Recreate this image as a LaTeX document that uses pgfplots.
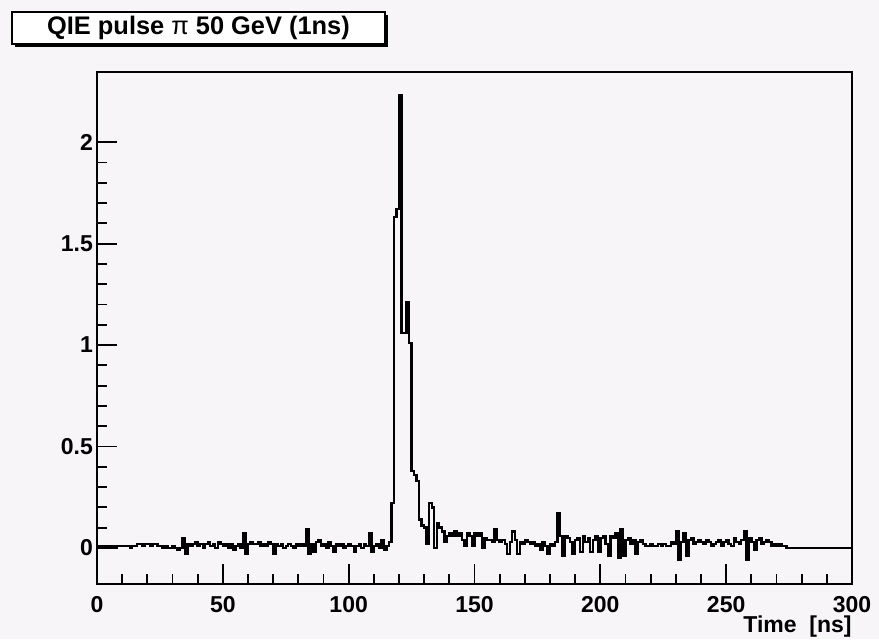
\documentclass[border=0pt]{standalone}
\usepackage{pgfplots}
\pgfplotsset{compat=1.18}
\usepackage{pgfplotstable}
\usepackage{fontspec}
\setmainfont{Liberation Sans}
\definecolor{bg}{RGB}{247,245,247}

\pgfplotstableread[row sep=\\]{
x y\\
0 0.01\\ 1 0.01\\ 2 0.01\\ 3 0.01\\ 4 0.01\\ 5 0.01\\ 6 0.01\\ 7 0.00\\ 8 0.01\\ 9 0.01\\
10 0.01\\ 11 0.01\\ 12 0.01\\ 13 0.00\\ 14 0.01\\ 15 0.01\\ 16 0.02\\ 17 0.02\\ 18 0.01\\ 19 0.02\\
20 0.02\\ 21 0.01\\ 22 0.02\\ 23 0.02\\ 24 0.01\\ 25 0.01\\ 26 0.00\\ 27 0.01\\ 28 0.00\\ 29 0.00\\
30 0.01\\ 31 0.00\\ 32 -0.01\\ 33 0.00\\ 34 0.05\\ 35 -0.03\\ 36 0.02\\ 37 0.01\\ 38 0.02\\ 39 0.03\\
40 0.01\\ 41 0.02\\ 42 0.00\\ 43 0.02\\ 44 0.03\\ 45 0.01\\ 46 0.02\\ 47 0.00\\ 48 0.03\\ 49 0.02\\
50 0.01\\ 51 0.02\\ 52 0.00\\ 53 0.02\\ 54 -0.01\\ 55 0.01\\ 56 0.02\\ 57 0.00\\ 58 0.07\\ 59 -0.03\\
60 0.02\\ 61 0.03\\ 62 0.02\\ 63 0.02\\ 64 0.03\\ 65 0.01\\ 66 0.02\\ 67 0.01\\ 68 0.03\\ 69 0.02\\
70 -0.03\\ 71 0.02\\ 72 0.01\\ 73 0.02\\ 74 0.00\\ 75 0.01\\ 76 0.02\\ 77 0.01\\ 78 0.00\\ 79 0.02\\
80 0.01\\ 81 0.02\\ 82 0.01\\ 83 0.09\\ 84 -0.03\\ 85 0.02\\ 86 -0.02\\ 87 0.03\\ 88 0.04\\ 89 0.01\\
90 0.02\\ 91 0.00\\ 92 0.03\\ 93 0.01\\ 94 -0.02\\ 95 0.02\\ 96 0.01\\ 97 0.02\\ 98 0.00\\ 99 0.01\\
100 0.02\\ 101 0.01\\ 102 -0.02\\ 103 0.01\\ 104 0.02\\ 105 0.00\\ 106 0.02\\ 107 0.01\\ 108 0.07\\ 109 -0.02\\
110 0.01\\ 111 0.02\\ 112 0.00\\ 113 0.04\\ 114 -0.01\\ 115 0.01\\ 116 0.03\\ 117 0.22\\ 118 1.63\\ 119 1.67\\
120 2.23\\ 121 1.06\\ 122 1.06\\ 123 1.21\\ 124 1.01\\ 125 0.38\\ 126 0.36\\ 127 0.33\\ 128 0.14\\ 129 0.11\\
130 0.10\\ 131 0.02\\ 132 0.22\\ 133 0.20\\ 134 0.00\\ 135 0.12\\ 136 0.10\\ 137 0.08\\ 138 0.03\\ 139 0.06\\
140 0.07\\ 141 0.06\\ 142 0.08\\ 143 0.06\\ 144 0.07\\ 145 0.04\\ 146 0.01\\ 147 0.07\\ 148 0.06\\ 149 0.01\\
150 0.07\\ 151 0.06\\ 152 0.07\\ 153 0.00\\ 154 0.05\\ 155 0.04\\ 156 0.04\\ 157 0.03\\ 158 0.09\\ 159 0.04\\
160 0.03\\ 161 0.04\\ 162 0.02\\ 163 -0.03\\ 164 0.03\\ 165 0.08\\ 166 0.04\\ 167 -0.03\\ 168 0.03\\ 169 0.02\\
170 0.04\\ 171 0.03\\ 172 0.02\\ 173 0.03\\ 174 0.01\\ 175 0.02\\ 176 -0.01\\ 177 0.03\\ 178 0.01\\ 179 -0.03\\
180 0.02\\ 181 0.01\\ 182 0.03\\ 183 0.17\\ 184 0.06\\ 185 -0.04\\ 186 0.06\\ 187 0.05\\ 188 0.03\\ 189 -0.03\\
190 0.04\\ 191 0.05\\ 192 -0.02\\ 193 0.06\\ 194 0.03\\ 195 0.05\\ 196 -0.02\\ 197 0.04\\ 198 0.06\\ 199 -0.02\\
200 0.05\\ 201 0.06\\ 202 0.02\\ 203 -0.04\\ 204 0.06\\ 205 0.05\\ 206 0.07\\ 207 -0.05\\ 208 0.09\\ 209 -0.04\\
210 0.04\\ 211 0.05\\ 212 0.02\\ 213 0.04\\ 214 -0.03\\ 215 0.03\\ 216 0.04\\ 217 0.02\\ 218 0.01\\ 219 0.01\\
220 0.02\\ 221 0.01\\ 222 0.01\\ 223 0.02\\ 224 0.01\\ 225 0.02\\ 226 0.01\\ 227 0.01\\ 228 0.03\\ 229 0.02\\
230 0.08\\ 231 -0.06\\ 232 0.03\\ 233 0.07\\ 234 -0.04\\ 235 0.04\\ 236 0.05\\ 237 0.02\\ 238 0.03\\ 239 0.04\\
240 0.03\\ 241 0.02\\ 242 0.04\\ 243 0.03\\ 244 0.01\\ 245 0.02\\ 246 0.03\\ 247 0.04\\ 248 0.01\\ 249 0.03\\
250 0.04\\ 251 0.02\\ 252 0.01\\ 253 0.05\\ 254 0.03\\ 255 0.02\\ 256 0.04\\ 257 0.08\\ 258 -0.06\\ 259 0.05\\
260 0.03\\ 261 -0.01\\ 262 0.04\\ 263 0.05\\ 264 0.02\\ 265 0.03\\ 266 0.04\\ 267 0.03\\ 268 0.01\\ 269 0.02\\
270 0.01\\ 271 0.02\\ 272 0.01\\ 273 0.01\\ 274 0.00\\ 275 0.00\\ 300 0.00\\
}\hist

\begin{document}
\begin{tikzpicture}
\path[use as bounding box, fill=bg] (0,0) rectangle (439.5pt,319.5pt);
\begin{axis}[
  at={(48.5pt,27.5pt)}, anchor=south west,
  scale only axis, width=377.5pt, height=256pt,
  xmin=0, xmax=300, ymin=-0.178, ymax=2.346,
  xtick={0,50,...,300}, minor x tick num=4,
  ytick={0,0.5,1,1.5,2}, minor y tick num=4,
  tick pos=left, tick align=inside,
  major tick length=10pt, minor tick length=5pt,
  axis line style={line width=1pt},
  every tick/.style={black, line width=0.9pt},
  /pgf/number format/assume math mode=true,
  tick label style={font=\fontsize{11.5}{13}\selectfont\bfseries},
  xticklabel style={yshift=-2.5pt},
  yticklabel style={xshift=1.5pt},
  xlabel={Time \ [ns]},
  xlabel style={at={(rel axis cs:1,0)}, anchor=base east, yshift=-24pt, inner sep=0pt, font=\fontsize{11.5}{13}\selectfont\bfseries},
  clip=false,
]
\addplot[const plot mark left, black, line width=1.2pt, mark=none] table[x=x, y=y] {\hist};
\end{axis}
\fill[black] (7.5pt,296pt) rectangle (194pt,312pt);
\draw[fill=white, line width=0.7pt] (6pt,297.5pt) rectangle (192.5pt,313.5pt);
\node[font=\fontsize{12.7}{14}\selectfont\bfseries] at (99.25pt,305.5pt) {QIE pulse {\mdseries π} 50 GeV (1ns)};
\end{tikzpicture}
\end{document}
